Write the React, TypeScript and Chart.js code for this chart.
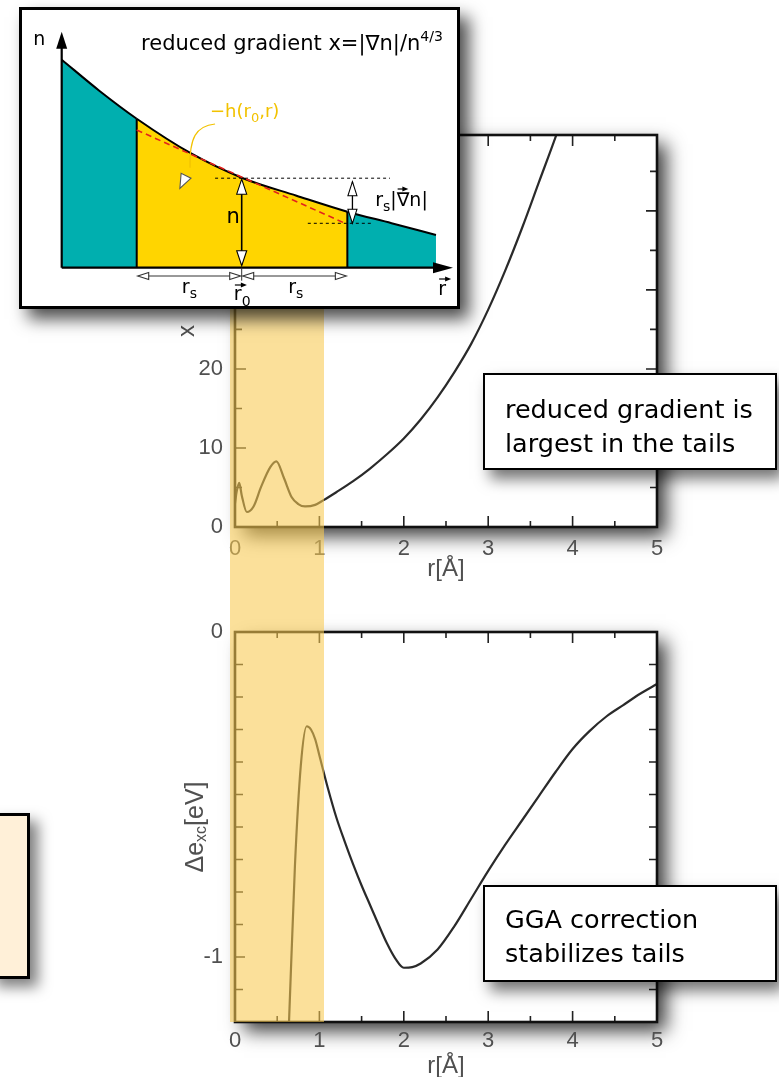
import React, { useEffect, useRef } from "react";
import { Chart, registerables } from "chart.js";

Chart.register(...registerables);

// ---------------- upper panel: reduced gradient x(r) ----------------
const GRAD_R = [0, 0.02, 0.05, 0.08, 0.14, 0.22, 0.31, 0.42, 0.49, 0.58, 0.67, 0.75, 0.83, 0.95, 1.05, 1.2, 1.4, 1.6, 1.8, 2.0, 2.2, 2.4, 2.6, 2.8, 3.0, 3.2, 3.4, 3.6, 3.8, 3.9];
const GRAD_X = [3.0, 4.5, 5.6, 4.0, 1.9, 2.6, 5.1, 7.6, 8.3, 6.2, 3.8, 2.9, 2.6, 2.8, 3.4, 4.4, 5.8, 7.4, 9.2, 11.2, 13.6, 16.4, 19.6, 23.2, 27.5, 32.4, 37.8, 43.6, 49.4, 52.5];
const GRAD_Y_MAX = 49.6;
const GRAD_Y_TICKS = [0, 10, 20, 30, 40];
const GRAD_Y_MAJOR = [10, 20, 30, 40];
const GRAD_Y_MINOR = [5, 15, 25, 35, 45];

// ---------------- lower panel: GGA correction Δe_xc(r) ----------------
const CORR_R = [0.6, 0.64, 0.71, 0.78, 0.85, 0.9, 0.95, 1.0, 1.1, 1.2, 1.3, 1.4, 1.5, 1.6, 1.7, 1.8, 1.9, 2.0, 2.1, 2.2, 2.4, 2.6, 2.8, 3.0, 3.2, 3.4, 3.6, 3.8, 4.0, 4.2, 4.4, 4.6, 4.8, 5.0];
const CORR_E = [-1.45, -1.2, -0.72, -0.41, -0.29, -0.3, -0.33, -0.38, -0.48, -0.57, -0.645, -0.715, -0.78, -0.84, -0.9, -0.958, -1.005, -1.033, -1.031, -1.02, -0.977, -0.905, -0.82, -0.735, -0.655, -0.58, -0.505, -0.43, -0.36, -0.305, -0.26, -0.225, -0.19, -0.16];
const CORR_Y_MIN = -1.2;
const CORR_Y_TICKS = [0, -1];
const CORR_Y_MAJOR = [-1];
const CORR_Y_MINOR = [-0.1, -0.2, -0.3, -0.4, -0.5, -0.6, -0.7, -0.8, -0.9, -1.1];

// shared r axis
const R_TICKS = [0, 1, 2, 3, 4, 5];
const R_MAJOR = [1, 2, 3, 4];
const R_MINOR = [0.5, 1.5, 2.5, 3.5, 4.5];

// ---------------- inset: schematic density n(r) ----------------
const INSET_U = [0, 9.6, 19.17, 33.2, 46, 60, 73, 84.3, 95.65];
const INSET_N = [208, 177, 149, 114, 90, 72, 56, 44.5, 32.7];
const YELLOW_FROM = 19.17;
const YELLOW_TO = 73.0;
const R0_U = 46;
const N_AT_R0 = 89.5;
const TANGENT_U = [19.17, 72.8];
const TANGENT_N = [137.7, 43.7];
const LEVEL0_U = [39.2, 83.9];
const LEVEL1_U = [62.9, 79.2];
const LEVEL1_N = 44.4;
const GRADIENT_ARROW_U = 74.3;
const GRADIENT_ARROW_N = [86, 44.4];

const LABEL_FONT = '"Liberation Sans", Arial, Helvetica, sans-serif';
const LABEL_COLOR = "#505050";
const INSET_FONT = '"DejaVu Sans", Verdana, sans-serif';
const TEAL = "#00AFAF";
const GOLD = "#FFD500";

const pts = (xs: number[], ys: number[]) => xs.map((x, i) => ({ x, y: ys[i] }));

type PanelSpec = {
  r: number[];
  v: number[];
  yMin: number;
  yMax: number;
  yTicks: number[];
  yMajor: number[];
  yMinor: number[];
  yMajorLen: number;
  yMinorLen: number;
  padTop: number;
  xAxisH: number;
  xLabelPad: number;
  xTitlePad: number;
  yTitle: string | null;
  yTitlePad: number;
  extra: any[];
};

function framePlugin(s: PanelSpec) {
  return {
    id: "frame",
    beforeDraw(chart: any) {
      const { ctx, chartArea: a } = chart;
      ctx.save();
      ctx.shadowColor = "rgba(0,0,0,0.78)";
      ctx.shadowBlur = 18;
      ctx.shadowOffsetX = 9;
      ctx.shadowOffsetY = 9;
      ctx.fillStyle = "#fff";
      ctx.fillRect(a.left, a.top, a.right - a.left, a.bottom - a.top);
      ctx.restore();
    },
    afterDraw(chart: any) {
      const { ctx, chartArea: a } = chart;
      const x = chart.scales.x;
      const y = chart.scales.y;
      ctx.save();
      ctx.strokeStyle = "#222";
      ctx.lineWidth = 1.6;
      ctx.beginPath();
      const xt = (vals: number[], len: number) => {
        for (const v of vals) {
          const p = x.getPixelForValue(v);
          ctx.moveTo(p, a.bottom);
          ctx.lineTo(p, a.bottom - len);
          ctx.moveTo(p, a.top);
          ctx.lineTo(p, a.top + len);
        }
      };
      const yt = (vals: number[], len: number) => {
        for (const v of vals) {
          const p = y.getPixelForValue(v);
          ctx.moveTo(a.left, p);
          ctx.lineTo(a.left + len, p);
          ctx.moveTo(a.right, p);
          ctx.lineTo(a.right - len, p);
        }
      };
      xt(R_MAJOR, 11);
      xt(R_MINOR, 6);
      yt(s.yMajor, s.yMajorLen);
      yt(s.yMinor, s.yMinorLen);
      ctx.stroke();
      ctx.lineWidth = 2.6;
      ctx.strokeStyle = "#111";
      ctx.strokeRect(a.left, a.top, a.right - a.left, a.bottom - a.top);
      ctx.restore();
    },
  };
}

const corrTitlePlugin = {
  id: "corrTitle",
  afterDraw(chart: any) {
    const { ctx, chartArea: a } = chart;
    const y = chart.scales.y;
    const cx = y.left + 46;
    const cy = (a.top + a.bottom) / 2;
    const big = `25px ${LABEL_FONT}`;
    const small = `16px ${LABEL_FONT}`;
    const parts: [string, string, number][] = [
      ["Δe", big, 0],
      ["xc", small, 6],
      ["[eV]", big, 0],
    ];
    ctx.save();
    ctx.translate(cx, cy);
    ctx.rotate(-Math.PI / 2);
    ctx.fillStyle = LABEL_COLOR;
    ctx.textBaseline = "middle";
    ctx.textAlign = "left";
    let total = 0;
    for (const [t, f] of parts) {
      ctx.font = f;
      total += ctx.measureText(t).width;
    }
    let px = -total / 2;
    for (const [t, f, dy] of parts) {
      ctx.font = f;
      ctx.fillText(t, px, dy);
      px += ctx.measureText(t).width;
    }
    ctx.restore();
  },
};

function panelConfig(s: PanelSpec) {
  return {
    type: "line",
    data: {
      datasets: [
        {
          data: pts(s.r, s.v),
          borderColor: "#2a2a2a",
          borderWidth: 2.2,
          pointRadius: 0,
          cubicInterpolationMode: "monotone",
          fill: false,
        },
      ],
    },
    options: {
      responsive: false,
      animation: false,
      events: [],
      layout: { padding: { top: s.padTop, right: 63, left: 0, bottom: 0 } },
      plugins: { legend: { display: false }, tooltip: { enabled: false } },
      scales: {
        x: {
          type: "linear",
          position: "bottom",
          min: 0,
          max: 5,
          grid: { display: false, drawTicks: false },
          border: { display: false },
          afterBuildTicks: (sc: any) => {
            sc.ticks = R_TICKS.map((v) => ({ value: v }));
          },
          afterFit: (sc: any) => {
            sc.height = s.xAxisH;
          },
          ticks: {
            color: LABEL_COLOR,
            font: { family: LABEL_FONT, size: 22 },
            padding: s.xLabelPad,
            maxRotation: 0,
            autoSkip: false,
          },
          title: {
            display: true,
            text: "r[Å]",
            color: LABEL_COLOR,
            font: { family: LABEL_FONT, size: 24 },
            padding: { top: 0, bottom: s.xTitlePad },
          },
        },
        y: {
          type: "linear",
          position: "left",
          min: s.yMin,
          max: s.yMax,
          grid: { display: false, drawTicks: false },
          border: { display: false },
          afterBuildTicks: (sc: any) => {
            sc.ticks = s.yTicks.map((v) => ({ value: v }));
          },
          afterFit: (sc: any) => {
            sc.width = 85;
          },
          ticks: {
            color: LABEL_COLOR,
            font: { family: LABEL_FONT, size: 22 },
            padding: 12,
            autoSkip: false,
          },
          title: s.yTitle
            ? {
                display: true,
                text: s.yTitle,
                color: LABEL_COLOR,
                font: { family: LABEL_FONT, size: 24 },
                padding: { top: s.yTitlePad, bottom: 0 },
              }
            : { display: false },
        },
      },
    },
    plugins: [framePlugin(s), ...s.extra],
  };
}

const GRAD_SPEC: PanelSpec = {
  r: GRAD_R,
  v: GRAD_X,
  yMin: 0,
  yMax: GRAD_Y_MAX,
  yTicks: GRAD_Y_TICKS,
  yMajor: GRAD_Y_MAJOR,
  yMinor: GRAD_Y_MINOR,
  yMajorLen: 11,
  yMinorLen: 7,
  padTop: 35,
  xAxisH: 83,
  xLabelPad: 9,
  xTitlePad: 26.6,
  yTitle: "x",
  yTitlePad: 22.6,
  extra: [],
};

const CORR_SPEC: PanelSpec = {
  r: CORR_R,
  v: CORR_E,
  yMin: CORR_Y_MIN,
  yMax: 0,
  yTicks: CORR_Y_TICKS,
  yMajor: CORR_Y_MAJOR,
  yMinor: CORR_Y_MINOR,
  yMajorLen: 10,
  yMinorLen: 8,
  padTop: 32,
  xAxisH: 78,
  xLabelPad: 5.3,
  xTitlePad: 19.6,
  yTitle: null,
  yTitlePad: 0,
  extra: [corrTitlePlugin],
};

// ---------- inset drawing helpers ----------
function head(ctx: any, tx: number, ty: number, dx: number, dy: number, len: number, half: number, fill: string, stroke?: string) {
  const bx = tx - dx * len;
  const by = ty - dy * len;
  const px = -dy;
  const py = dx;
  ctx.beginPath();
  ctx.moveTo(tx, ty);
  ctx.lineTo(bx + px * half, by + py * half);
  ctx.lineTo(bx - px * half, by - py * half);
  ctx.closePath();
  ctx.fillStyle = fill;
  ctx.fill();
  if (stroke) {
    ctx.strokeStyle = stroke;
    ctx.lineWidth = 1.1;
    ctx.stroke();
  }
}

function overArrow(ctx: any, x0: number, x1: number, y: number) {
  ctx.save();
  ctx.strokeStyle = "#000";
  ctx.lineWidth = 1.2;
  ctx.beginPath();
  ctx.moveTo(x0, y);
  ctx.lineTo(x1 - 4, y);
  ctx.stroke();
  head(ctx, x1, y, 1, 0, 6, 2.6, "#000");
  ctx.restore();
}

function runText(ctx: any, x: number, y: number, parts: [string, number, number][]) {
  let px = x;
  const xs: number[] = [];
  for (const [t, size, dy] of parts) {
    ctx.font = `${size}px ${INSET_FONT}`;
    xs.push(px);
    ctx.fillText(t, px, y + dy);
    px += ctx.measureText(t).width;
  }
  xs.push(px);
  return xs;
}

const insetDecor = {
  id: "insetDecor",
  afterDatasetsDraw(chart: any) {
    const { ctx } = chart;
    const xs = chart.scales.x;
    const ys = chart.scales.y;
    const X = (u: number) => xs.getPixelForValue(u);
    const Y = (n: number) => ys.getPixelForValue(n);
    ctx.save();
    ctx.textBaseline = "alphabetic";
    ctx.textAlign = "left";

    // axes with filled arrows
    ctx.strokeStyle = "#000";
    ctx.lineWidth = 2.2;
    ctx.beginPath();
    ctx.moveTo(X(0), Y(0));
    ctx.lineTo(X(0), Y(236) + 12);
    ctx.moveTo(X(0), Y(0));
    ctx.lineTo(X(100) - 12, Y(0));
    ctx.stroke();
    head(ctx, X(0), Y(236), 0, -1, 17, 5.5, "#000");
    head(ctx, X(100), Y(0), 1, 0, 20, 5.5, "#000");

    // vertical double arrow "n" at r0
    ctx.strokeStyle = "#000";
    ctx.lineWidth = 1.6;
    ctx.beginPath();
    ctx.moveTo(X(R0_U), Y(0) - 3);
    ctx.lineTo(X(R0_U), Y(N_AT_R0) + 3);
    ctx.stroke();
    head(ctx, X(R0_U), Y(N_AT_R0) + 1, 0, -1, 15, 5, "#fff", "#000");
    head(ctx, X(R0_U), Y(0) - 2, 0, 1, 15, 5, "#fff", "#000");

    // small double arrow r_s|∇n|
    const ga = X(GRADIENT_ARROW_U);
    ctx.beginPath();
    ctx.lineWidth = 1.3;
    ctx.moveTo(ga, Y(GRADIENT_ARROW_N[0]));
    ctx.lineTo(ga, Y(GRADIENT_ARROW_N[1]));
    ctx.stroke();
    head(ctx, ga, Y(GRADIENT_ARROW_N[0]), 0, -1, 14, 4.5, "#fff", "#000");
    head(ctx, ga, Y(GRADIENT_ARROW_N[1]), 0, 1, 14, 4.5, "#fff", "#000");

    // r_s arrows below axis
    const yb = Y(-8.3);
    ctx.strokeStyle = "#333";
    ctx.lineWidth = 1;
    ctx.beginPath();
    ctx.moveTo(X(YELLOW_FROM) + 2, yb);
    ctx.lineTo(X(R0_U) - 2, yb);
    ctx.moveTo(X(R0_U) + 2, yb);
    ctx.lineTo(X(YELLOW_TO) - 2, yb);
    ctx.moveTo(X(R0_U), Y(0));
    ctx.lineTo(X(R0_U), Y(-13));
    ctx.stroke();
    head(ctx, X(YELLOW_FROM) + 1, yb, -1, 0, 11, 3.5, "#fff", "#333");
    head(ctx, X(R0_U) - 1, yb, 1, 0, 11, 3.5, "#fff", "#333");
    head(ctx, X(R0_U) + 1, yb, -1, 0, 11, 3.5, "#fff", "#333");
    head(ctx, X(YELLOW_TO) - 1, yb, 1, 0, 11, 3.5, "#fff", "#333");

    // labels
    ctx.fillStyle = "#000";
    runText(ctx, X(-7.3), Y(222.7), [["n", 19, 0]]);
    runText(ctx, X(42.1), Y(44.7), [["n", 21, 0]]);
    runText(ctx, X(30.7), Y(-25.3), [["r", 19, 0], ["s", 14, 5]]);
    runText(ctx, X(57.9), Y(-25.3), [["r", 19, 0], ["s", 14, 5]]);
    const r0 = runText(ctx, X(44.0), Y(-32.3), [["r", 19, 0], ["0", 14, 6]]);
    overArrow(ctx, r0[0] + 1, r0[0] + 13, Y(-32.3) - 15);
    const rv = runText(ctx, X(96.2), Y(-27.3), [["r", 19, 0]]);
    overArrow(ctx, rv[0] + 1, rv[0] + 13, Y(-27.3) - 16);
    const rg = runText(ctx, X(80.1), Y(61.7), [["r", 19, 0], ["s", 14, 5], ["|", 19, 0], ["∇", 19, 0], ["n|", 19, 0]]);
    overArrow(ctx, rg[3] + 1, rg[4] - 1, Y(61.7) - 17);

    // title
    const tb = Y(217.7);
    ctx.font = `21px ${INSET_FONT}`;
    const mainT = "reduced gradient x=|∇n|/n";
    const w1 = ctx.measureText(mainT).width;
    ctx.font = `14px ${INSET_FONT}`;
    const supT = "4/3";
    const w2 = ctx.measureText(supT).width;
    const tx = X(97.4) - w1 - w2;
    ctx.font = `21px ${INSET_FONT}`;
    ctx.fillText(mainT, tx, tb);
    ctx.font = `14px ${INSET_FONT}`;
    ctx.fillText(supT, tx + w1, tb - 9);

    // yellow -h(r0,r) annotation with curved arrow
    ctx.fillStyle = "#F2C200";
    runText(ctx, X(37.9), Y(150.7), [["−h(r", 18, 0], ["0", 13, 5], [",r)", 18, 0]]);
    ctx.strokeStyle = "#F2C200";
    ctx.lineWidth = 1.2;
    ctx.beginPath();
    ctx.moveTo(X(39.2), Y(143.7));
    ctx.bezierCurveTo(X(34.3), Y(141.7), X(32.6), Y(130), X(32.8), Y(100));
    ctx.stroke();
    const tipX = X(30.2);
    const tipY = Y(79.4);
    const dx = tipX - X(32.8);
    const dy = tipY - Y(100);
    const dl = Math.hypot(dx, dy);
    head(ctx, tipX, tipY, dx / dl, dy / dl, 14, 5.5, "#fff", "#555");
    ctx.restore();
  },
};

function insetConfig() {
  const level = (u: number[], n: number) => [
    { x: u[0], y: n },
    { x: u[1], y: n },
  ];
  return {
    type: "line",
    data: {
      datasets: [
        {
          data: pts(INSET_U, INSET_N),
          borderColor: "#000",
          borderWidth: 2,
          pointRadius: 0,
          cubicInterpolationMode: "monotone",
          fill: "origin",
          backgroundColor: TEAL,
          order: 10,
          segment: {
            backgroundColor: (c: any) =>
              c.p0.parsed.x >= YELLOW_FROM - 1e-6 && c.p1.parsed.x <= YELLOW_TO + 1e-6 ? GOLD : TEAL,
          },
        },
        {
          data: pts(TANGENT_U, TANGENT_N),
          borderColor: "#E3231C",
          borderWidth: 1.6,
          borderDash: [6, 4],
          pointRadius: 0,
          fill: false,
          order: 1,
        },
        {
          data: level(LEVEL0_U, N_AT_R0),
          borderColor: "#000",
          borderWidth: 1,
          borderDash: [3, 3],
          pointRadius: 0,
          fill: false,
          order: 1,
        },
        {
          data: level(LEVEL1_U, LEVEL1_N),
          borderColor: "#000",
          borderWidth: 1,
          borderDash: [3, 3],
          pointRadius: 0,
          fill: false,
          order: 1,
        },
        {
          data: [
            { x: YELLOW_FROM, y: 0 },
            { x: YELLOW_FROM, y: INSET_N[2] },
          ],
          borderColor: "#000",
          borderWidth: 2,
          pointRadius: 0,
          fill: false,
          order: 2,
        },
        {
          data: [
            { x: YELLOW_TO, y: 0 },
            { x: YELLOW_TO, y: INSET_N[6] },
          ],
          borderColor: "#000",
          borderWidth: 2,
          pointRadius: 0,
          fill: false,
          order: 2,
        },
      ],
    },
    options: {
      responsive: false,
      animation: false,
      events: [],
      layout: { padding: { left: 39.7, top: 21.7, right: 4, bottom: 38.3 } },
      plugins: { legend: { display: false }, tooltip: { enabled: false } },
      scales: {
        x: { type: "linear", min: 0, max: 100, display: false },
        y: { type: "linear", min: 0, max: 236, display: false },
      },
    },
    plugins: [insetDecor],
  };
}

const boxStyle: React.CSSProperties = {
  position: "absolute",
  boxSizing: "border-box",
  border: "2.5px solid #000",
  background: "#fff",
  boxShadow: "7px 9px 14px rgba(0,0,0,0.55)",
  fontFamily: INSET_FONT,
  fontSize: 25.5,
  lineHeight: "34px",
  color: "#000",
  paddingLeft: 20,
  whiteSpace: "nowrap",
};

export default function App() {
  const topRef = useRef<HTMLCanvasElement>(null);
  const botRef = useRef<HTMLCanvasElement>(null);
  const insetRef = useRef<HTMLCanvasElement>(null);

  useEffect(() => {
    const charts = [
      new Chart(topRef.current as HTMLCanvasElement, panelConfig(GRAD_SPEC) as any),
      new Chart(botRef.current as HTMLCanvasElement, panelConfig(CORR_SPEC) as any),
      new Chart(insetRef.current as HTMLCanvasElement, insetConfig() as any),
    ];
    return () => charts.forEach((c) => c.destroy());
  }, []);

  return (
    <div
      style={{
        position: "absolute",
        left: 0,
        top: 0,
        width: 779,
        height: 1077,
        overflow: "hidden",
        background: "#fff",
      }}
    >
      <canvas ref={topRef} width={570} height={510} style={{ position: "absolute", left: 150, top: 100 }} />
      <canvas ref={botRef} width={570} height={500} style={{ position: "absolute", left: 150, top: 600 }} />
      <div
        style={{
          position: "absolute",
          left: 230,
          top: 290,
          width: 94,
          height: 732,
          background: "rgba(248,202,81,0.58)",
        }}
      />
      <div
        style={{
          position: "absolute",
          left: 19,
          top: 7,
          width: 441,
          height: 302,
          boxSizing: "border-box",
          border: "3px solid #000",
          background: "#fff",
          boxShadow: "9px 10px 16px rgba(0,0,0,0.7)",
        }}
      >
        <canvas ref={insetRef} width={435} height={296} style={{ position: "absolute", left: 0, top: 0 }} />
      </div>
      <div style={{ ...boxStyle, left: 483, top: 373, width: 294, height: 97, paddingTop: 16.5 }}>
        reduced gradient is
        <br />
        largest in the tails
      </div>
      <div style={{ ...boxStyle, left: 483, top: 885, width: 294, height: 97, paddingTop: 15 }}>
        GGA correction
        <br />
        stabilizes tails
      </div>
      <div
        style={{
          position: "absolute",
          left: -12,
          top: 813,
          width: 42,
          height: 166,
          boxSizing: "border-box",
          border: "3px solid #000",
          background: "#FFF0D8",
          boxShadow: "8px 8px 14px rgba(0,0,0,0.5)",
        }}
      />
    </div>
  );
}
